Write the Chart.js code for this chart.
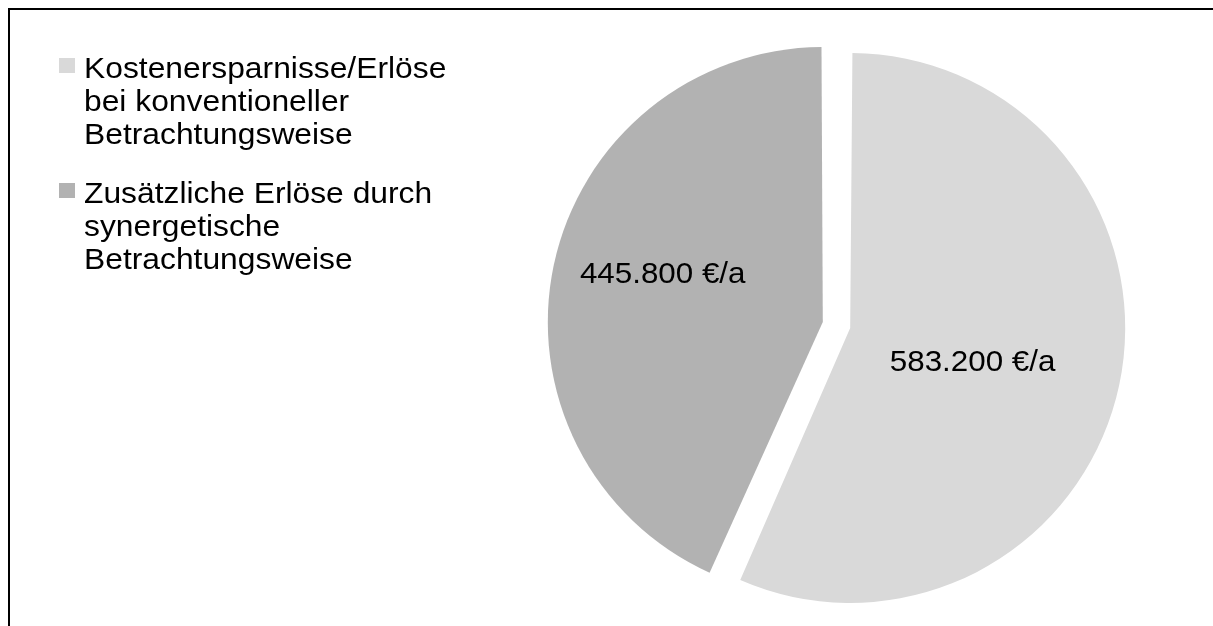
<!DOCTYPE html>
<html lang="de">
<head>
<meta charset="utf-8">
<title>Kostenersparnisse und Erlöse</title>
<script src="https://cdn.jsdelivr.net/npm/chart.js@4.4.1/dist/chart.umd.min.js"></script>
<style>
  html, body { margin: 0; padding: 0; background: #fff; overflow: hidden; }
  body { width: 1213px; height: 626px; position: relative; font-family: "Liberation Sans", Arial, sans-serif; }
  #frame { position: absolute; left: 8px; top: 8px; width: 1205px; height: 618px; border-top: 2px solid #000; border-left: 2px solid #000; box-sizing: border-box; }
  #wrap { position: absolute; left: 0; top: 0; width: 1213px; height: 626px; }
  #legend { position: absolute; left: 59px; top: 51px; }
  .item { position: relative; padding-left: 25px; font-size: 30px; line-height: 33px; color: #000; margin-bottom: 26px; white-space: nowrap; }
  .item .box { position: absolute; left: 0; top: 7px; width: 16px; height: 15px; }
  .item .txt { display: inline-block; transform: scaleX(1.06); transform-origin: left center; }
</style>
</head>
<body>
<div id="frame"></div>
<div id="wrap"><canvas id="pie"></canvas></div>
<div id="legend"></div>
<script>
const labels = [
  ['Kostenersparnisse/Erlöse', 'bei konventioneller', 'Betrachtungsweise'],
  ['Zusätzliche Erlöse durch', 'synergetische', 'Betrachtungsweise']
];
const values = [583200, 445800];
const unit = '€/a';
const colors = ['#d9d9d9', '#b2b2b2'];

const RADIUS = 275;
const PULL = 56; // chart.js moves a slice by offset / 4
// where each value label sits: share of the radius, extra turn in degrees
const labelPlace = [{ r: 0.46, turn: 2.4 }, { r: 0.61, turn: 5 }];

function fmt(n) {
  return String(n).replace(/\B(?=(\d{3})+(?!\d))/g, '.');
}

// chart.js also grows a pulled slice; keep both slices the same size
const evenRadius = {
  id: 'evenRadius',
  beforeDatasetsDraw(chart) {
    chart.getDatasetMeta(0).data.forEach(arc => {
      const grow = (arc.options.offset / 4) * (1 - Math.sin(Math.min(Math.PI, arc.circumference)));
      arc.outerRadius = RADIUS - grow;
    });
  }
};

const valueLabels = {
  id: 'valueLabels',
  afterDatasetsDraw(chart) {
    const ctx = chart.ctx;
    chart.getDatasetMeta(0).data.forEach((arc, i) => {
      const mid = (arc.startAngle + arc.endAngle) / 2 + labelPlace[i].turn * Math.PI / 180;
      const d = arc.options.offset / 4 + labelPlace[i].r * RADIUS;
      const x = arc.x + Math.cos(mid) * d;
      const y = arc.y + Math.sin(mid) * d;
      ctx.save();
      ctx.font = '30px "Liberation Sans", Arial, sans-serif';
      ctx.fillStyle = '#000';
      ctx.textAlign = 'center';
      ctx.textBaseline = 'alphabetic';
      ctx.translate(x, y + 11);
      ctx.scale(1.045, 1);
      ctx.fillText(fmt(values[i]) + ' ' + unit, 0, 0);
      ctx.restore();
    });
  }
};

const chart = new Chart(document.getElementById('pie'), {
  type: 'pie',
  data: {
    labels: labels,
    datasets: [{
      data: values,
      backgroundColor: colors,
      borderWidth: 0,
      offset: PULL,
      hoverOffset: 0
    }]
  },
  options: {
    responsive: true,
    maintainAspectRatio: false,
    animation: false,
    events: [],
    radius: RADIUS,
    layout: { padding: { left: 460, top: 24, right: 0, bottom: 0 } },
    plugins: {
      legend: { display: false },
      tooltip: { enabled: false }
    }
  },
  plugins: [evenRadius, valueLabels]
});

// legend built from the chart's own labels and colours
const legend = document.getElementById('legend');
chart.data.labels.forEach((lines, i) => {
  const item = document.createElement('div');
  item.className = 'item';
  const box = document.createElement('span');
  box.className = 'box';
  box.style.background = chart.data.datasets[0].backgroundColor[i];
  item.appendChild(box);
  const txt = document.createElement('span');
  txt.className = 'txt';
  lines.forEach((line, k) => {
    if (k) txt.appendChild(document.createElement('br'));
    txt.appendChild(document.createTextNode(line));
  });
  item.appendChild(txt);
  legend.appendChild(item);
});
</script>
</body>
</html>
